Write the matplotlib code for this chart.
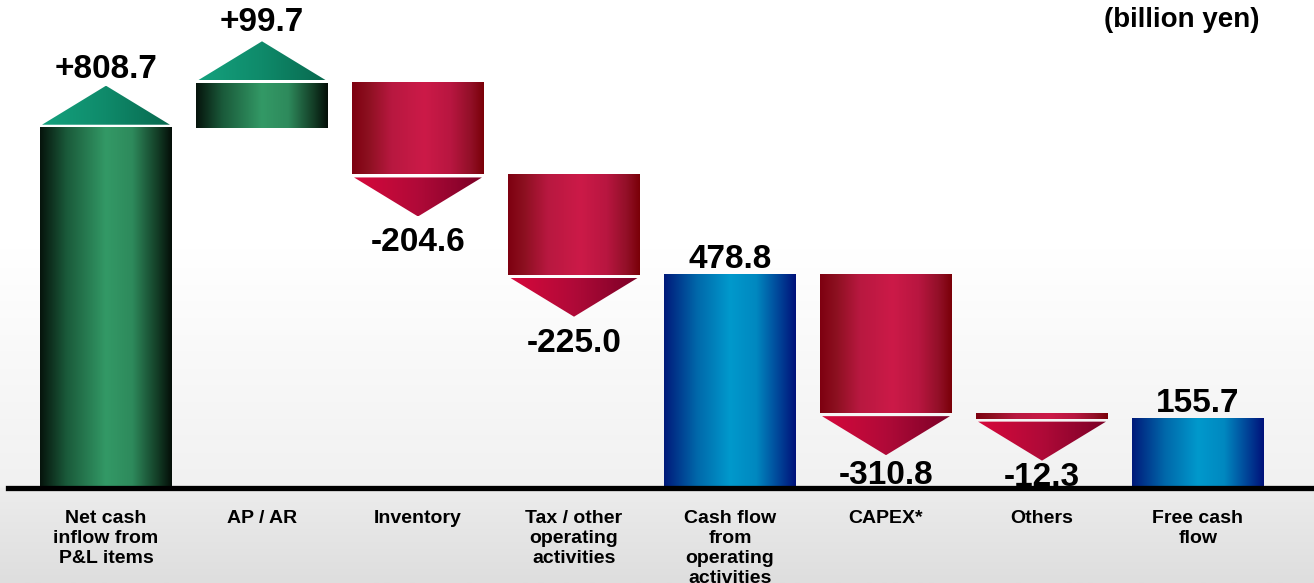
import numpy as np
import matplotlib
matplotlib.use('Agg')
import matplotlib.pyplot as plt
from matplotlib.colors import LinearSegmentedColormap
from matplotlib.patches import Polygon

plt.rcParams['font.family'] = ['Liberation Sans', 'DejaVu Sans']

# data (billion yen)
categories = ['Net cash\ninflow from\nP&L items', 'AP / AR', 'Inventory',
              'Tax / other\noperating\nactivities', 'Cash flow\nfrom\noperating\nactivities',
              'CAPEX*', 'Others', 'Free cash\nflow']
values = [808.7, 99.7, -204.6, -225.0, 478.8, -310.8, -12.3, 155.7]
kinds = ['up', 'up', 'down', 'down', 'total', 'down', 'down', 'total']
labels = ['+808.7', '+99.7', '-204.6', '-225.0', '478.8', '-310.8', '-12.3', '155.7']
# label offsets in points from arrow tip / bar top (layout only)
label_off = [11.5, 13.5, -19, -19, 11, -14.5, -12.5, 11]

# colour profiles across a bar (left -> right)
green_bar = LinearSegmentedColormap.from_list('gb', [(0, '#06140c'), (0.2, '#1a5a3a'), (0.5, '#339966'),
                                                     (0.7, '#2e8a5c'), (0.9, '#123a24'), (1, '#040e08')])
red_bar = LinearSegmentedColormap.from_list('rb', [(0, '#7e0010'), (0.12, '#8c1020'), (0.3, '#b81840'),
                                                   (0.55, '#cc1a48'), (0.75, '#b81640'), (0.9, '#921028'),
                                                   (1, '#7a0008')])
blue_bar = LinearSegmentedColormap.from_list('bb', [(0, '#001a7a'), (0.25, '#0068aa'), (0.5, '#0099cc'),
                                                    (0.7, '#0088c0'), (1, '#00127a')])
green_tri = LinearSegmentedColormap.from_list('gt', ['#14a27e', '#0f8a6a', '#08684e'])
red_tri = LinearSegmentedColormap.from_list('rt', ['#d8083c', '#b00a38', '#7a0026'])
bg = LinearSegmentedColormap.from_list('bg', [(0, '#ffffff'), (0.43, '#ffffff'), (0.835, '#f1f1f1'),
                                              (0.84, '#ececec'), (1, '#dedede')])

W, H = 1314, 583
fig = plt.figure(figsize=(W / 100, H / 100), dpi=100)
ax = fig.add_axes([0, 0, 1, 1])
ax.set_axis_off()

px_x = 156.0          # pixels per category
px_y = 0.4455         # pixels per billion yen
x0_px, base_px = 106, 488
xlim = (-x0_px / px_x, (W - x0_px) / px_x)
ylim = (-(H - base_px) / px_y, base_px / px_y)

def py(p):
    return p / px_y

grad = np.linspace(0, 1, 256).reshape(1, -1)

# background
ax.imshow(np.linspace(0, 1, 256).reshape(-1, 1), cmap=bg, aspect='auto',
          extent=(xlim[0], xlim[1], ylim[0], ylim[1]), origin='upper', zorder=0)

bw = 0.84
tri_h = py(39)
gap = py(3)
vfs = 24

level = 0.0
for i, (v, k, lab) in enumerate(zip(values, kinds, labels)):
    left, right = i - bw / 2, i + bw / 2
    if k == 'up':
        bot, top = level, level + v
        level = top
        cm_b, cm_t = green_bar, green_tri
    elif k == 'down':
        top, bot = level, level + v
        level = bot
        cm_b, cm_t = red_bar, red_tri
    else:
        bot, top = 0, v
        level = v
        cm_b = blue_bar
    ax.imshow(grad, cmap=cm_b, aspect='auto', extent=(left, right, bot, top), zorder=2)

    anchor = top
    if k == 'up':
        y1 = top + gap
        tip = y1 + tri_h
        poly = Polygon([(left + 0.01, y1), (right - 0.01, y1), (i, tip)], closed=True,
                       transform=ax.transData)
        im = ax.imshow(grad, cmap=cm_t, aspect='auto', extent=(left, right, y1, tip), zorder=2)
        im.set_clip_path(poly)
        anchor = tip
    elif k == 'down':
        y1 = bot - gap
        tip = y1 - tri_h
        poly = Polygon([(left + 0.01, y1), (right - 0.01, y1), (i, tip)], closed=True,
                       transform=ax.transData)
        im = ax.imshow(grad, cmap=cm_t, aspect='auto', extent=(left, right, tip, y1), zorder=2)
        im.set_clip_path(poly)
        anchor = tip
    ax.annotate(lab, (i, anchor), xytext=(0, label_off[i]), textcoords='offset points',
                ha='center', va='center', fontsize=vfs, fontweight='bold', zorder=4)

# baseline
ax.axhline(0, xmin=8 / W, xmax=1, color='black', lw=3.8, zorder=3)

for i, c in enumerate(categories):
    ax.text(i, py(-22), c, ha='center', va='top', fontsize=14, fontweight='bold',
            linespacing=1.22, zorder=4)

ax.text((1260 - x0_px) / px_x, py(base_px - 20), '(billion yen)', ha='right', va='center',
        fontsize=20, fontweight='bold', zorder=4)

ax.set_xlim(*xlim)
ax.set_ylim(*ylim)

fig.savefig('out.png', dpi=100)
